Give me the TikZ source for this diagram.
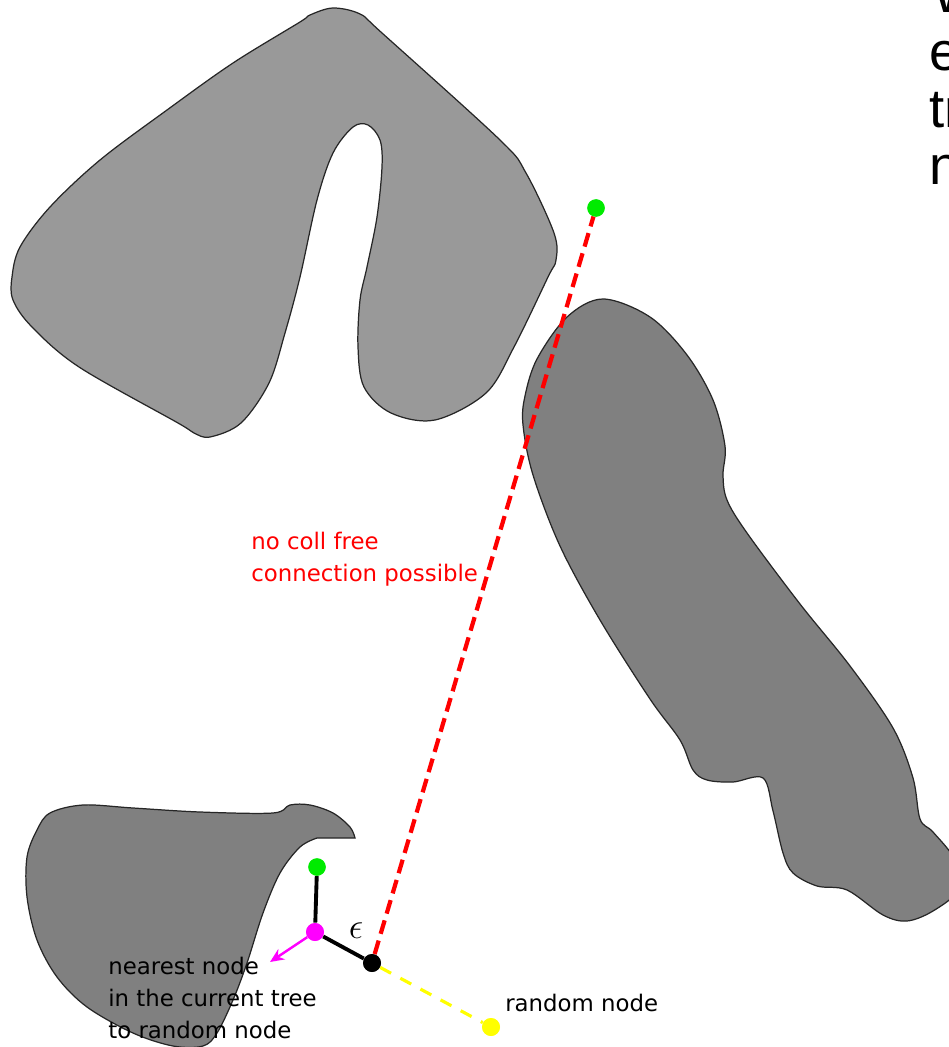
\documentclass[tikz,border=0pt]{standalone}
\usepackage{amsmath,amssymb}
\usepackage{fontspec}
\usepackage{tikz}
\usetikzlibrary{arrows.meta}
\newfontfamily\notefont{DejaVu Sans}
\newfontfamily\slidefont{Liberation Sans}
\definecolor{dotgreen}{RGB}{0,235,0}
\definecolor{dotmagenta}{RGB}{255,0,255}
\definecolor{dotyellow}{RGB}{255,255,0}
\definecolor{linered}{RGB}{255,0,0}

\begin{document}
\begin{tikzpicture}[x=0.02cm, y=-0.02cm,
    every node/.style={font=\notefont\fontsize{13}{18.2}\selectfont},
    obstacle/.style={draw=black!85, line width=0.7pt, fill=#1},
    treedot/.style={circle, inner sep=0pt, minimum size=#1},
    treeedge/.style={line width=2.2pt, black},
    slidetext/.style={anchor=base west, inner sep=0pt, font=\slidefont\fontsize{31}{37}\selectfont}]

\useasboundingbox (0,0) rectangle (949,1047);
\clip (0,0) rectangle (949,1047);

% --- obstacles ---
\path[obstacle=black!40] plot[smooth cycle, tension=0.55] coordinates {
    (333,8) (360,14) (382,33) (500,140) (526,173) (554,233) (556,260) (548,277)
    (514,347) (486,393) (435,420) (391,413) (364,387) (358,347) (360,300)
    (367,267) (377,217) (382,167) (380,140) (368,125) (353,127) (333,153)
    (317,200) (300,277) (285,333) (269,383) (241,423) (210,437) (194,433)
    (178,423) (79,367) (32,327) (13,300) (12,277) (20,247) (50,207) (100,160)
    (167,110) (233,63) (300,22) (310,15)};

\path[obstacle=black!50] plot[smooth cycle, tension=0.55] coordinates {
    (603,299) (650,317) (687,355) (713,400) (725,446) (723,475) (727,500)
    (747,533) (800,604) (850,666) (893,728) (913,778) (920,819) (933,832)
    (955,860) (958,890) (933,911) (907,921) (883,915) (847,890) (817,886)
    (793,873) (783,853) (773,811) (763,778) (733,782) (707,780) (693,770)
    (680,740) (650,699) (600,620) (560,546) (533,475) (523,425) (525,396)
    (537,359) (567,317)};

\path[obstacle=black!50] (317,838) -- plot[smooth, tension=0.55] coordinates {
    (355,838) (350,827) (333,813) (310,805) (290,805) (273,813) (200,812)
    (133,808) (83,805) (50,813) (37,830) (27,857) (27,897) (37,940) (57,977)
    (87,1007) (133,1033) (173,1046) (203,1046) (217,1033) (233,1000)
    (247,963) (263,913) (280,873) (300,847) (317,838)} -- cycle;

% --- tree nodes ---
\node[treedot=0.34cm, fill=dotgreen] (goal) at (596,208) {};
\node[treedot=0.34cm, fill=dotgreen] (leaf) at (317,867) {};
\node[treedot=0.36cm, fill=dotmagenta] (nearest) at (315,932) {};
\node[treedot=0.36cm, fill=black] (extend) at (372,963) {};
\node[treedot=0.36cm, fill=dotyellow] (random) at (491,1027) {};
\coordinate (pointer) at (270,962);

% --- connections ---
\draw[linered, line width=2.4pt, dash pattern=on 8pt off 4pt] (extend) -- (goal);
\draw[dotyellow, line width=1.8pt, dash pattern=on 7pt off 6pt] (extend) -- (random);
\draw[treeedge] (leaf) -- (nearest);
\draw[treeedge] (nearest) -- (extend);
\draw[dotmagenta, line width=1.4pt, -{Stealth[length=8pt, width=7pt]}] (nearest) -- (pointer);

% redraw dots on top
\foreach \d/\c in {goal/dotgreen, leaf/dotgreen, nearest/dotmagenta, extend/black, random/dotyellow}
    \fill[\c] (\d) circle (8.8);

% --- labels ---
\node[anchor=center, font=\fontsize{20}{20}\selectfont] (eps) at (356,931) {$\epsilon$};
\node[anchor=base west, align=left, text=linered, inner sep=0pt] (nocoll) at (251,581)
    {no coll free\\connection possible};
\node[anchor=base west, align=left, inner sep=0pt] (nearlabel) at (108,1038)
    {nearest node\\in the current tree\\to random node};
\node[anchor=base west, inner sep=0pt] (randlabel) at (505,1011) {random node};

% --- clipped slide text ---
\node[slidetext] (w1) at (932,13) {W};
\node[slidetext] (w2) at (929,71) {e};
\node[slidetext] (w3) at (929,128) {tr};
\node[slidetext] (w4) at (929,185) {n};

\end{tikzpicture}
\end{document}
